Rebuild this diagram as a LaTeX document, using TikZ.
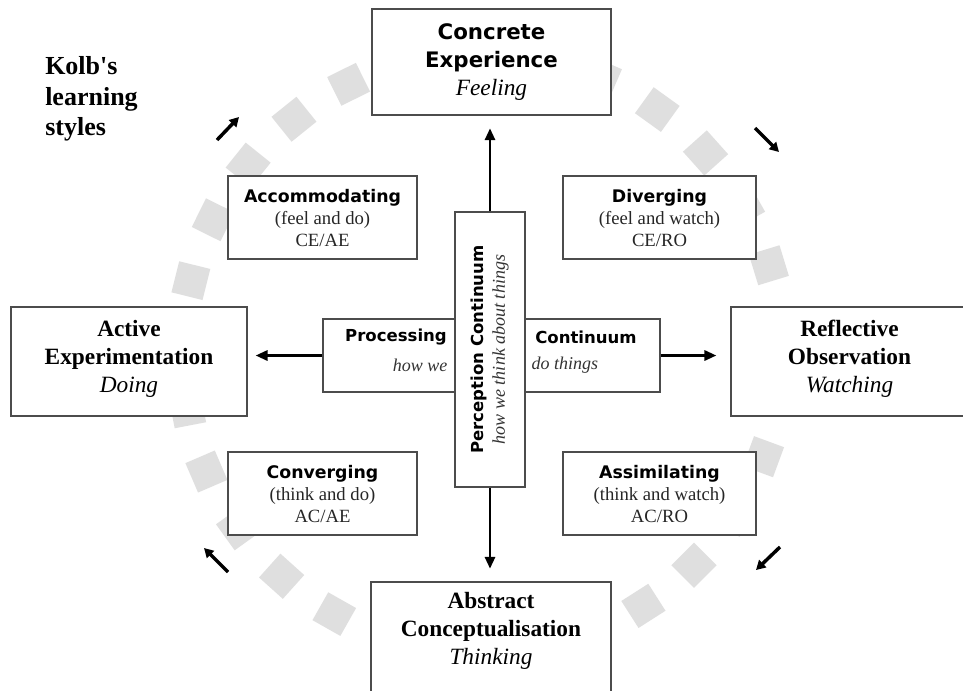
\documentclass[tikz,border=0pt]{standalone}
\usepackage{fontspec}
\setmainfont{Liberation Serif}
\newfontfamily\labsans{DejaVu Sans}
\usetikzlibrary{calc,arrows.meta}

\newcommand{\stylehead}{\labsans\bfseries\fontsize{13}{16.5}\selectfont}
\newcommand{\axishead}{\labsans\bfseries\fontsize{12.4}{16.5}\selectfont}
\newcommand{\modehead}{\labsans\bfseries\fontsize{16}{21}\selectfont}

\tikzset{
  frame/.style={draw=black!70, line width=0.8pt, fill=white, align=center, inner sep=0pt},
  modebox/.style={frame, font=\fontsize{17.5}{21}\selectfont},
  stylebox/.style={frame, font=\fontsize{14}{16.5}\selectfont, text=black!85,
    minimum height=62.25pt},
  tile/.style={fill=gray!25, minimum size=24pt, inner sep=0pt},
  flow/.style={line width=2.2pt, -{Triangle[length=9pt,width=7.5pt]}},
  turn/.style={line width=2.6pt, -{Triangle[length=7pt,width=7.5pt]}}
}

\begin{document}
\begin{tikzpicture}[x=0.75pt,y=-0.75pt]
  \useasboundingbox[fill=white] (0,0) rectangle (963,690);

  \coordinate (hub) at (482,353);
  \foreach \i in {0,...,28} {
    \pgfmathsetmacro{\a}{116.4+\i*12.41}
    \node[tile, rotate=\a] at ($(hub)+(-\a:300)$) {};
  }

  \node[font=\fontsize{19.5}{23}\selectfont\bfseries, align=left, anchor=west, inner sep=0pt]
    (title) at (45,99) {Kolb\textquotesingle s\\learning\\styles};

  \node[modebox, minimum width=179.25pt, minimum height=79.5pt] (ce) at (491.5,62)
    {{\modehead Concrete}\\{\modehead Experience}\\{\itshape Feeling}};
  \node[modebox, minimum width=177pt, minimum height=81.75pt, text depth=8pt] (ae) at (129,361.5)
    {{\bfseries Active}\\{\bfseries Experimentation}\\{\itshape Doing}};
  \node[modebox, minimum width=177.75pt, minimum height=81.75pt, text depth=8pt] (ro) at (849.5,361.5)
    {{\bfseries Reflective}\\{\bfseries Observation}\\{\itshape Watching}};
  \node[modebox, minimum width=180pt, minimum height=84pt, text depth=15pt] (ac) at (491,638)
    {{\bfseries Abstract}\\{\bfseries Conceptualisation}\\{\itshape Thinking}};

  \node[stylebox, minimum width=141.75pt] (acc) at (322.5,217.5)
    {{\stylehead\color{black} Accommodating}\\(feel and do)\\CE/AE};
  \node[stylebox, minimum width=144.75pt] (div) at (659.5,217.5)
    {{\stylehead\color{black} Diverging}\\(feel and watch)\\CE/RO};
  \node[stylebox, minimum width=141.75pt] (con) at (322.5,493.5)
    {{\stylehead\color{black} Converging}\\(think and do)\\AC/AE};
  \node[stylebox, minimum width=144.75pt] (ass) at (659.5,493.5)
    {{\stylehead\color{black} Assimilating}\\(think and watch)\\AC/RO};

  \node[frame, minimum width=252.75pt, minimum height=54.75pt] (proc) at (491.5,355.5) {};
  \node[font=\axishead] (proctext) at (396,337) {Processing};
  \node[font=\axishead] (conttext) at (586,337) {Continuum};
  \node[font=\fontsize{13.5}{16.5}\selectfont\itshape, text=black!80, anchor=east] (howdo) at (452,365) {how we};
  \node[font=\fontsize{13.5}{16.5}\selectfont\itshape, text=black!80, anchor=west] (dothings) at (527,365) {do things};

  \node[frame, rotate=90, minimum width=206.25pt, minimum height=52.5pt,
    font=\fontsize{13.5}{15.75}\selectfont] (perc) at (490,349.5)
    {{\axishead Perception Continuum}\\{\itshape\color{black!80} how we think about things}};

  \draw[flow, shorten >=9.5pt] (perc.east) -- (perc.east |- ce.south);
  \draw[flow, shorten >=9.5pt] (perc.west) -- (perc.west |- ac.north);
  \draw[flow, shorten >=6pt] (proc.west) -- (proc.west -| ae.east);
  \draw[flow, shorten >=10.5pt] (proc.east) -- (proc.east -| ro.west);

  \coordinate (t1) at (217,140);
  \coordinate (t2) at (239,117);
  \coordinate (t3) at (755,128);
  \coordinate (t4) at (779,152);
  \coordinate (t5) at (780,547);
  \coordinate (t6) at (756,570);
  \coordinate (t7) at (228,572);
  \coordinate (t8) at (204,548);
  \draw[turn] (t1) -- (t2);
  \draw[turn] (t3) -- (t4);
  \draw[turn] (t5) -- (t6);
  \draw[turn] (t7) -- (t8);
\end{tikzpicture}
\end{document}
